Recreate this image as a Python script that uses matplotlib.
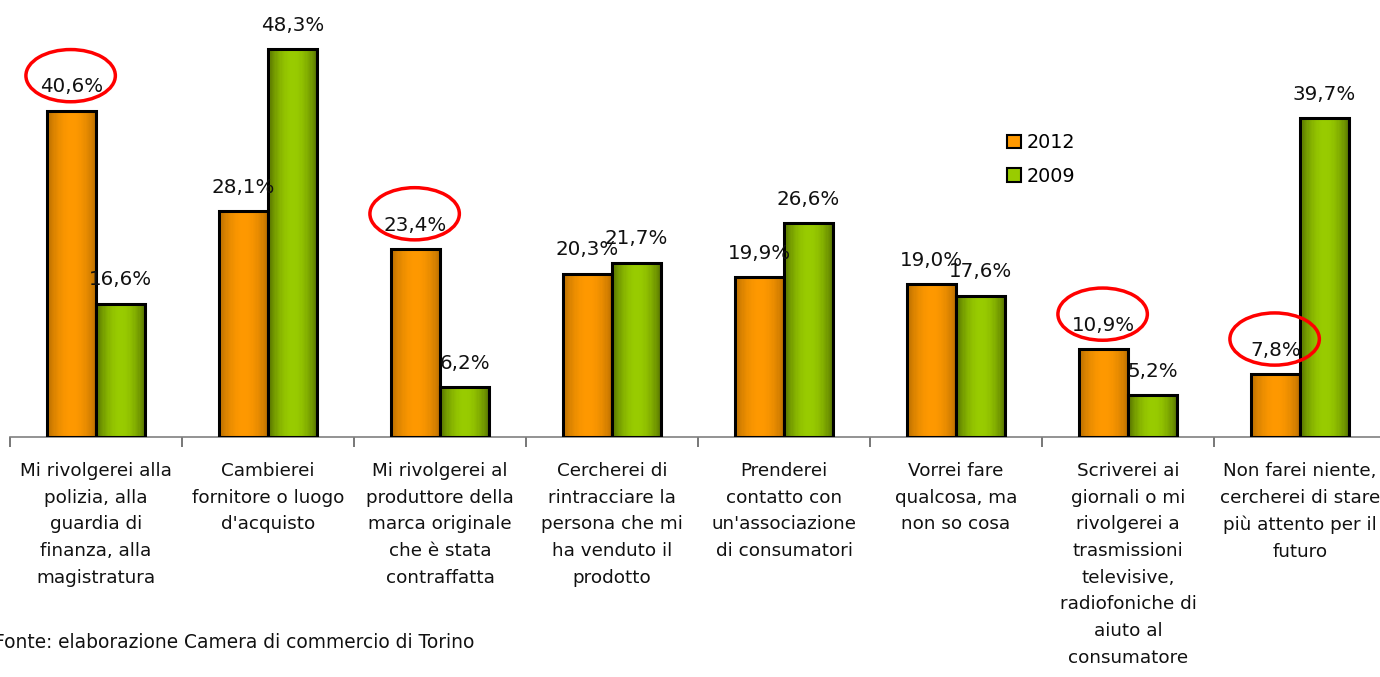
import numpy as np
import matplotlib.pyplot as plt
from matplotlib.patches import Ellipse, Patch

plt.rcParams['font.family'] = ['DejaVu Sans']

# data
categories = [
    "Mi rivolgerei alla\npolizia, alla\nguardia di\nfinanza, alla\nmagistratura",
    "Cambierei\nfornitore o luogo\nd'acquisto",
    "Mi rivolgerei al\nproduttore della\nmarca originale\nche è stata\ncontraffatta",
    "Cercherei di\nrintracciare la\npersona che mi\nha venduto il\nprodotto",
    "Prenderei\ncontatto con\nun'associazione\ndi consumatori",
    "Vorrei fare\nqualcosa, ma\nnon so cosa",
    "Scriverei ai\ngiornali o mi\nrivolgerei a\ntrasmissioni\ntelevisive,\nradiofoniche di\naiuto al\nconsumatore",
    "Non farei niente,\ncercherei di stare\npiù attento per il\nfuturo",
]
v2012 = [40.6, 28.1, 23.4, 20.3, 19.9, 19.0, 10.9, 7.8]
v2009 = [16.6, 48.3, 6.2, 21.7, 26.6, 17.6, 5.2, 39.7]
series = ["2012", "2009"]
circled = [0, 2, 6, 7]   # 2012 labels with red circle

orange = np.array([1.0, 0.6, 0.0])
green = np.array([0.6, 0.8, 0.0])

fig = plt.figure(figsize=(13.8, 6.77), dpi=100)
ax = fig.add_axes([10/1380, 240/677, 1376/1380, 401.5/677])

w = 0.285
t = np.linspace(0, 1, 40)

def shaded_bar(x, h, base, dark):
    # cylinder-like horizontal shading, lighter in the middle
    f = dark + (1 - dark) * np.sin(np.pi * t) ** 0.8
    img = np.repeat((base[None, :] * f[:, None])[None, :, :], 2, axis=0)
    ax.imshow(np.clip(img, 0, 1), extent=[x - w/2, x + w/2, 0, h],
              aspect='auto', zorder=2, interpolation='nearest')
    ax.bar(x, h, w, fill=False, edgecolor='black', linewidth=2.2, zorder=3)

def fmt(v):
    return f"{v:.1f}%".replace('.', ',')

for i in range(len(categories)):
    xo = i - w/2
    xg = i + w/2
    shaded_bar(xo, v2012[i], orange, 0.72)
    shaded_bar(xg, v2009[i], green, 0.55)
    ax.text(xo, v2012[i] + 3.0, fmt(v2012[i]), ha='center', va='center', fontsize=14.3, color='#111111')
    ax.text(xg, v2009[i] + 3.0, fmt(v2009[i]), ha='center', va='center', fontsize=14.3, color='#111111')
    ax.text(i, -3.1, categories[i], ha='center', va='top', fontsize=13.2,
            linespacing=1.62, color='#111111', clip_on=False)
    if i in circled:
        ax.add_patch(Ellipse((xo - 0.005, v2012[i] + 4.4), 0.52, 6.5, fill=False,
                             edgecolor='red', linewidth=2.5, zorder=4, clip_on=False))

ax.set_xlim(-0.5, 7.5)
ax.set_ylim(0, 50)
for s in ['top', 'right', 'left']:
    ax.spines[s].set_visible(False)
ax.spines['bottom'].set_color('#808080')
ax.spines['bottom'].set_linewidth(1.2)
ax.set_yticks([])
ax.set_xticks(np.arange(-0.5, 7.6, 1.0))
ax.set_xticklabels([])
ax.tick_params(axis='x', direction='out', length=7, color='#606060', width=1.2)

handles = [Patch(facecolor=orange, edgecolor='black', linewidth=1.5),
           Patch(facecolor=green, edgecolor='black', linewidth=1.5)]
fig.legend(handles, series, loc='upper left', bbox_to_anchor=(990/1380, 1 - 116/677),
           frameon=False, fontsize=13.8, handlelength=0.7, handleheight=0.7,
           handletextpad=0.3, labelspacing=0.75)

fig.text(-6/1380, 1 - 643/677, "Fonte: elaborazione Camera di commercio di Torino",
         ha='left', va='center', fontsize=13.4, color='#111111')

fig.savefig('out.png', dpi=100)
